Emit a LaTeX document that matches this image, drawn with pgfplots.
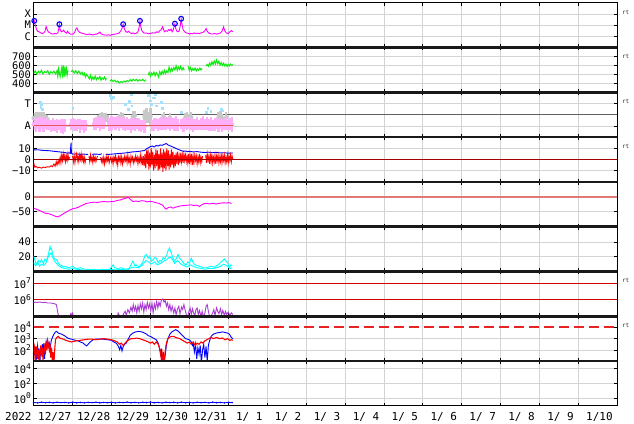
\documentclass[border=0pt]{standalone}
\usepackage{pgfplots}
\pgfplotsset{compat=1.18}
\usepackage{fontspec}
\setmainfont{DejaVu Sans Mono}

\definecolor{gridc}{RGB}{211,211,211}
\definecolor{magc}{RGB}{255,0,255}
\definecolor{grnc}{RGB}{20,235,20}
\definecolor{pinkc}{RGB}{255,175,250}
\definecolor{skyc}{RGB}{160,225,255}
\definecolor{greyc}{RGB}{200,200,200}
\definecolor{darkred}{RGB}{165,0,0}
\definecolor{lightred}{RGB}{225,120,120}
\definecolor{cyanc}{RGB}{0,255,255}
\definecolor{purc}{RGB}{170,60,210}
\definecolor{redc}{RGB}{215,0,0}
\definecolor{refred}{RGB}{230,90,90}
\definecolor{dashr}{RGB}{232,35,35}

\newcommand{\lab}{\fontsize{11}{11}\selectfont}
\newcommand{\ylab}{\fontsize{10.5}{10.5}\selectfont}
\newcommand{\tp}[1]{10\raisebox{0.8ex}{\fontsize{8}{8}\selectfont #1}}

\pgfplotsset{
  panel/.style={
    scale only axis, width=583.6bp, height=44.79bp, anchor=north west,
    xmin=0, xmax=15, xtick={1,...,14}, xticklabels={},
    grid=major, major grid style={gridc, line width=0.6bp},
    axis line style={line width=0.9bp},
    tick style={black, line width=0.6bp}, major tick length=3bp,
    yticklabel style={font=\ylab, inner sep=0pt, xshift=-2.6bp},
    unbounded coords=jump, clip mode=individual,
  },
  rt/.style={after end axis/.append code={
    \node[anchor=west, inner sep=0pt, xshift=4.5bp, font=\fontsize{6}{6}\selectfont, text=black!80]
      at (rel axis cs:1,0.79) {rt};}},
}

\begin{document}
\begin{tikzpicture}
\useasboundingbox (-33.7bp,2.7bp) rectangle (600.3bp,-421.3bp);

% X-ray flux (log10)
\begin{axis}[panel, rt, name=p1, at={(0,0)}, ymin=-7, ymax=-3,
  ytick={-6,-5,-4}, yticklabels={C,M,X}]
\addplot[magc, line width=0.9bp] coordinates {
(0.00,-4.75) (0.015,-4.62) (0.04,-5.0) (0.07,-5.35) (0.10,-5.55) (0.14,-5.6) (0.18,-5.7) (0.22,-5.75)
(0.26,-5.7) (0.29,-5.55) (0.32,-5.12) (0.35,-5.45) (0.38,-5.62) (0.42,-5.7) (0.46,-5.78) (0.50,-5.8)
(0.54,-5.75) (0.58,-5.78) (0.62,-5.7) (0.64,-5.4) (0.66,-4.92) (0.68,-5.4) (0.71,-5.6) (0.74,-5.55)
(0.77,-5.45) (0.80,-5.62) (0.84,-5.72) (0.87,-5.55) (0.90,-5.7) (0.94,-5.8) (0.98,-5.82) (1.02,-5.78)
(1.06,-5.6) (1.09,-5.3) (1.11,-5.25) (1.14,-5.5) (1.18,-5.65) (1.22,-5.7) (1.27,-5.75) (1.32,-5.8)
(1.37,-5.85) (1.42,-5.8) (1.47,-5.84) (1.52,-5.88) (1.57,-5.82) (1.62,-5.8) (1.67,-5.72) (1.70,-5.62)
(1.73,-5.78) (1.78,-5.85) (1.83,-5.88) (1.88,-5.9) (1.93,-5.86) (1.97,-5.92) (2.01,-5.85) (2.06,-5.82)
(2.11,-5.8) (2.16,-5.75) (2.20,-5.7) (2.24,-5.5) (2.27,-5.3) (2.30,-4.92) (2.33,-5.35) (2.36,-5.55)
(2.40,-5.65) (2.44,-5.55) (2.48,-5.7) (2.52,-5.75) (2.56,-5.7) (2.60,-5.78) (2.64,-5.72) (2.68,-5.6)
(2.71,-5.2) (2.73,-4.62) (2.75,-5.1) (2.78,-5.5) (2.82,-5.68) (2.86,-5.72) (2.90,-5.7) (2.95,-5.78)
(3.00,-5.75) (3.04,-5.7) (3.08,-5.68) (3.12,-5.72) (3.16,-5.6) (3.20,-5.65) (3.24,-5.5) (3.28,-5.4)
(3.31,-5.15) (3.33,-5.3) (3.36,-5.6) (3.40,-5.5) (3.44,-5.55) (3.47,-5.4) (3.50,-5.5) (3.53,-5.35)
(3.56,-5.6) (3.59,-5.4) (3.61,-5.1) (3.63,-4.87) (3.65,-5.3) (3.68,-5.55) (3.71,-5.6) (3.74,-5.5)
(3.77,-5.0) (3.79,-4.43) (3.81,-4.9) (3.84,-5.4) (3.88,-5.6) (3.92,-5.7) (3.96,-5.72) (4.00,-5.8)
(4.04,-5.75) (4.08,-5.78) (4.12,-5.7) (4.16,-5.75) (4.20,-5.72) (4.25,-5.76) (4.30,-5.7) (4.35,-5.65)
(4.40,-5.5) (4.43,-5.3) (4.46,-5.55) (4.50,-5.72) (4.55,-5.78) (4.60,-5.8) (4.65,-5.75) (4.70,-5.8)
(4.75,-5.76) (4.80,-5.7) (4.84,-5.55) (4.88,-5.15) (4.91,-5.5) (4.95,-5.7) (5.00,-5.75) (5.04,-5.6)
(5.08,-5.5) (5.12,-5.6)};
\addplot[only marks, mark=o, mark size=2.4bp, blue, mark options={line width=1.1bp}] coordinates {
(0.015,-4.62) (0.66,-4.92) (2.30,-4.92) (2.73,-4.62) (3.63,-4.87) (3.79,-4.43)};
\end{axis}

% solar wind speed
\begin{axis}[panel, rt, name=p2, at={(0,-44.79bp)}, ymin=300, ymax=800,
  ytick={400,500,600,700}, yticklabels={400,500,600,700}]
\addplot[grnc, line width=1.1bp] coordinates {
(0.00,510) (0.04,540) (0.08,505) (0.12,535) (0.16,515) (0.20,545) (0.24,505) (0.28,530) (0.32,520)
(0.36,540) (0.40,500) (0.44,530) (0.48,515) (0.52,535) (0.56,505) (0.60,540) (0.62,480) (0.64,560)
(0.68,475) (0.72,570) (0.74,500) (0.76,600) (0.78,470) (0.80,555) (0.82,510) (0.84,590) (0.86,495)
(0.88,545) (0.91,nan)
(0.96,530) (1.00,545) (1.04,515) (1.08,540) (1.12,510) (1.16,535) (1.20,505) (1.24,525) (1.27,490)
(1.30,515) (1.33,470) (1.36,500) (1.40,475) (1.43,450) (1.46,490) (1.49,440) (1.52,470) (1.55,445)
(1.58,480) (1.61,440) (1.64,465) (1.67,450) (1.70,475) (1.73,435) (1.76,460) (1.79,445) (1.82,470)
(1.85,440) (1.87,455) (1.91,nan)
(1.96,425) (2.00,440) (2.04,420) (2.08,435) (2.12,415) (2.16,425) (2.20,405) (2.24,420) (2.28,410)
(2.32,425) (2.36,415) (2.40,430) (2.44,420) (2.48,440) (2.52,425) (2.56,445) (2.60,430) (2.64,445)
(2.68,425) (2.72,440) (2.76,430) (2.80,445) (2.84,425) (2.88,440) (2.92,nan)
(2.94,490) (2.97,520) (3.00,480) (3.03,515) (3.06,495) (3.09,525) (3.12,485) (3.15,520) (3.18,500)
(3.21,470) (3.24,530) (3.27,495) (3.30,535) (3.33,505) (3.36,545) (3.39,510) (3.42,540) (3.45,520)
(3.48,580) (3.51,530) (3.54,565) (3.57,540) (3.60,575) (3.63,550) (3.66,595) (3.69,545) (3.72,580)
(3.75,555) (3.78,590) (3.81,550) (3.84,575) (3.87,545) (3.92,nan)
(3.97,590) (4.00,545) (4.03,575) (4.06,540) (4.09,565) (4.12,545) (4.15,570) (4.18,540) (4.21,560)
(4.24,545) (4.27,570) (4.30,550) (4.33,565) (4.38,nan)
(4.43,595) (4.46,610) (4.49,590) (4.52,625) (4.55,600) (4.58,640) (4.61,610) (4.64,650) (4.67,615)
(4.70,660) (4.73,620) (4.76,645) (4.79,605) (4.82,630) (4.85,600) (4.88,625) (4.91,595) (4.94,615)
(4.97,590) (5.00,610) (5.03,595) (5.06,615) (5.09,600) (5.12,610)};
\end{axis}

% T / A index
\begin{axis}[panel, rt, name=p3, at={(0,-89.58bp)}, ymin=0, ymax=10,
  ytick={2.5,7.5}, yticklabels={A,T}]
\addplot[gray!75!black, line width=0.8bp] coordinates {(0,5) (15,5)};
\addplot[only marks, mark=none, color=greyc, error bars/.cd, y dir=both, y explicit,
  error mark=none, error bar style={line width=2.2bp, greyc}] coordinates {
(0.00,4.2) +- (0,1.2) (0.05,4.5) +- (0,1.2) (0.10,4.6) +- (0,1.0) (0.15,4.3) +- (0,1.2)
(0.20,4.5) +- (0,1.0) (0.25,4.4) +- (0,1.1) (0.30,4.2) +- (0,1.0) (0.35,4.0) +- (0,1.0)
(1.65,4.0) +- (0,1.0) (1.70,4.3) +- (0,1.1) (1.75,4.5) +- (0,1.0) (1.80,4.2) +- (0,1.2)
(1.85,4.4) +- (0,1.0) (1.90,4.0) +- (0,1.0) (2.20,4.2) +- (0,1.0) (2.25,4.5) +- (0,1.2)
(2.30,4.3) +- (0,1.0) (2.55,4.6) +- (0,1.2) (2.60,4.8) +- (0,1.1) (2.85,4.5) +- (0,1.5)
(2.90,4.8) +- (0,1.6) (2.95,4.4) +- (0,1.2) (3.00,4.6) +- (0,1.8) (3.30,4.2) +- (0,1.0)
(3.35,4.4) +- (0,1.1) (3.50,4.3) +- (0,1.0) (3.90,4.3) +- (0,1.0) (3.95,4.5) +- (0,1.1)
(4.00,4.2) +- (0,1.0) (4.05,4.4) +- (0,1.2) (4.75,4.3) +- (0,1.2) (4.80,4.6) +- (0,1.3)
(4.85,4.2) +- (0,1.0) (4.95,4.4) +- (0,1.2)};
\addplot[only marks, mark=none, color=pinkc, error bars/.cd, y dir=both, y explicit,
  error mark=none, error bar style={line width=2.2bp, pinkc}] coordinates {
(0.00,2.9) +- (0,1.3) (0.05,2.7) +- (0,1.5) (0.10,3.0) +- (0,1.2) (0.15,2.8) +- (0,1.6)
(0.20,3.1) +- (0,1.3) (0.25,2.6) +- (0,1.4) (0.30,2.9) +- (0,1.2) (0.35,3.0) +- (0,1.5)
(0.40,2.7) +- (0,1.1) (0.45,2.5) +- (0,1.3) (0.50,2.8) +- (0,1.5) (0.55,2.6) +- (0,1.2)
(0.60,2.4) +- (0,1.6) (0.65,2.7) +- (0,1.2) (0.70,2.5) +- (0,1.5) (0.75,2.3) +- (0,1.7)
(0.80,2.6) +- (0,1.4) (0.95,2.8) +- (0,1.3) (1.00,3.0) +- (0,1.2) (1.05,2.7) +- (0,1.4)
(1.10,2.6) +- (0,1.3) (1.15,2.9) +- (0,1.2) (1.20,2.5) +- (0,1.5) (1.25,2.7) +- (0,1.1)
(1.30,2.4) +- (0,1.4) (1.35,2.6) +- (0,1.2) (1.55,2.9) +- (0,1.3) (1.60,3.0) +- (0,1.4)
(1.65,3.2) +- (0,1.2) (1.70,2.8) +- (0,1.5) (1.75,3.1) +- (0,1.3) (1.80,2.9) +- (0,1.1)
(1.95,2.8) +- (0,1.4) (2.00,3.1) +- (0,1.5) (2.05,3.2) +- (0,1.2) (2.10,3.0) +- (0,1.4)
(2.15,3.3) +- (0,1.3) (2.20,2.9) +- (0,1.5) (2.25,3.2) +- (0,1.2) (2.30,3.0) +- (0,1.4)
(2.35,2.7) +- (0,1.3) (2.40,3.0) +- (0,1.5) (2.45,2.8) +- (0,1.2) (2.50,2.6) +- (0,1.6)
(2.55,2.9) +- (0,1.3) (2.60,2.7) +- (0,1.4) (2.65,3.0) +- (0,1.2) (2.70,2.8) +- (0,1.5)
(2.75,2.5) +- (0,1.3) (2.80,2.7) +- (0,1.2) (2.85,2.4) +- (0,1.4) (3.05,2.6) +- (0,1.3)
(3.10,2.8) +- (0,1.5) (3.15,3.0) +- (0,1.2) (3.20,2.7) +- (0,1.4) (3.25,2.9) +- (0,1.3)
(3.30,3.1) +- (0,1.5) (3.35,2.8) +- (0,1.2) (3.40,3.0) +- (0,1.4) (3.45,3.2) +- (0,1.3)
(3.50,2.9) +- (0,1.5) (3.55,3.1) +- (0,1.2) (3.60,2.8) +- (0,1.4) (3.65,3.0) +- (0,1.6)
(3.70,2.7) +- (0,1.3) (3.80,2.9) +- (0,1.2) (3.85,2.7) +- (0,1.5) (3.90,3.0) +- (0,1.3)
(3.95,2.8) +- (0,1.2) (4.00,3.1) +- (0,1.4) (4.05,2.9) +- (0,1.3) (4.10,2.6) +- (0,1.5)
(4.15,2.8) +- (0,1.2) (4.20,3.0) +- (0,1.4) (4.25,2.7) +- (0,1.1) (4.30,2.9) +- (0,1.3)
(4.35,3.1) +- (0,1.5) (4.40,2.8) +- (0,1.2) (4.45,3.0) +- (0,1.4) (4.50,2.7) +- (0,1.3)
(4.55,2.9) +- (0,1.5) (4.60,2.6) +- (0,1.2) (4.65,2.8) +- (0,1.4) (4.70,3.0) +- (0,1.3)
(4.75,2.7) +- (0,1.5) (4.80,2.9) +- (0,1.2) (4.85,2.6) +- (0,1.4) (4.90,2.8) +- (0,1.3)
(4.95,3.0) +- (0,1.5) (5.00,2.7) +- (0,1.2) (5.05,2.9) +- (0,1.4) (5.10,2.8) +- (0,1.6)};
\addplot[only marks, mark=square*, mark size=0.9bp, skyc] coordinates {
(0.16,7.9) (0.18,6.7) (0.20,7.3) (0.22,6.2) (1.00,6.4) (1.96,9.3) (2.00,8.6) (2.05,8.9) (2.35,7.4)
(2.43,6.3) (2.45,8.0) (2.50,9.6) (2.52,7.0) (2.94,9.3) (2.97,9.8) (3.00,8.1) (3.03,7.4) (3.06,8.8)
(3.10,8.8) (3.13,9.6) (3.15,7.0) (3.28,7.7) (3.30,6.5) (3.79,5.5) (4.43,5.6) (4.47,6.4) (4.55,5.8)
(4.82,6.3) (4.85,5.9)};
\addplot[refred, line width=0.9bp] coordinates {(0,2.5) (5.12,2.5)};
\end{axis}

% IMF Bt / Bz
\begin{axis}[panel, rt, name=p4, at={(0,-134.37bp)}, ymin=-20, ymax=20,
  ytick={-10,0,10}, yticklabels={−10,0,10}]
\addplot[blue, line width=0.9bp] coordinates {
(0,8.5) (0.1,8.7) (0.2,8.2) (0.3,8.0) (0.4,7.8) (0.5,7.4) (0.6,7.0) (0.7,6.6) (0.8,6.2) (0.87,5.6)
(0.9,6.0) (0.94,5.5) (0.96,15) (0.97,5.5) (1.0,4.8) (1.1,5.0) (1.2,4.5) (1.3,4.8) (1.4,4.4) (1.45,nan)
(1.5,4.6) (1.6,4.8) (1.7,4.5) (1.75,5.0) (1.8,nan) (1.85,4.4) (1.95,4.6) (2.05,4.9) (2.15,5.2)
(2.25,5.5) (2.35,5.8) (2.45,6.3) (2.55,6.8) (2.65,7.0) (2.75,7.5) (2.85,8.0) (2.9,9.5) (2.95,10.5)
(3.0,11.5) (3.05,12.0) (3.1,11.2) (3.15,12.5) (3.2,12.0) (3.25,13.0) (3.3,12.6) (3.35,13.5)
(3.41,14.2) (3.45,13.0) (3.5,12.3) (3.55,11.5) (3.6,10.8) (3.65,10.0) (3.7,9.2) (3.75,8.5) (3.8,7.8)
(3.85,7.2) (3.9,7.6) (3.95,7.0) (4.0,7.3) (4.1,6.8) (4.2,7.0) (4.3,6.5) (4.4,6.2) (4.5,6.5) (4.6,6.0)
(4.7,6.3) (4.8,5.8) (4.9,6.0) (5.0,5.6) (5.12,5.8)};
\addplot[red, line width=0.9bp] coordinates {
(0,-3) (0.03,-7) (0.06,-6) (0.1,-7.5) (0.15,-7) (0.2,-7.8) (0.25,-6.8) (0.3,-7.2) (0.35,-6.5)
(0.4,-6.8) (0.45,-5.5) (0.48,-6.5) (0.52,-4) (0.55,-6) (0.58,-2) (0.6,-5) (0.63,-1) (0.65,-4) (0.68,2)
(0.7,-3) (0.72,4) (0.74,-1) (0.76,5) (0.78,0) (0.8,4) (0.82,-2) (0.84,3) (0.86,-1) (0.88,5) (0.9,0)
(0.93,2) (0.95,nan)
(1.0,3) (1.02,-2) (1.04,4) (1.06,-3) (1.08,2) (1.1,5) (1.12,-1) (1.14,3) (1.16,-2) (1.18,4) (1.2,0)
(1.22,5) (1.24,-1) (1.26,3) (1.28,-2) (1.3,2) (1.32,-3) (1.34,1) (1.37,nan)
(1.42,3) (1.44,-2) (1.46,4) (1.48,-1) (1.5,2) (1.52,-3) (1.54,3) (1.56,-1) (1.58,2) (1.6,-2) (1.62,1)
(1.64,3) (1.67,nan)
(1.72,2) (1.74,-2) (1.76,1) (1.78,-3) (1.8,2) (1.82,-4) (1.84,1) (1.86,-2) (1.88,3) (1.9,-1) (1.92,2)
(1.94,-3) (1.96,0) (1.98,2) (2.0,-2) (2.02,1) (2.04,-4) (2.06,2) (2.08,-1) (2.1,3) (2.12,-3) (2.14,1)
(2.16,-5) (2.18,2) (2.2,-1) (2.22,3) (2.24,-3) (2.26,2) (2.28,-4) (2.3,1) (2.32,-2) (2.34,3) (2.36,-1)
(2.38,2) (2.4,-3) (2.42,4) (2.44,-2) (2.46,1) (2.48,-4) (2.5,3) (2.52,-1) (2.54,2) (2.56,-3) (2.58,1)
(2.6,-2) (2.62,3) (2.64,-1) (2.66,2) (2.68,-4) (2.7,1) (2.72,-2) (2.74,4) (2.76,-3) (2.78,2) (2.8,-5)
(2.82,3) (2.84,-6) (2.86,5) (2.88,-8) (2.9,8) (2.92,-4) (2.94,9) (2.96,-9) (2.98,6) (3.0,-7) (3.02,10)
(3.04,-5) (3.06,7) (3.08,-10) (3.1,4) (3.12,-8) (3.14,9) (3.16,-6) (3.18,8) (3.2,-10) (3.22,5)
(3.24,-9) (3.26,10) (3.28,-7) (3.3,6) (3.32,-11) (3.34,9) (3.36,-8) (3.38,7) (3.4,-10) (3.42,10)
(3.44,-6) (3.46,8) (3.48,-9) (3.5,5) (3.52,-7) (3.54,9) (3.56,-5) (3.58,7) (3.6,-8) (3.62,4) (3.64,-6)
(3.66,6) (3.68,-4) (3.7,7) (3.72,-5) (3.74,3) (3.76,-3) (3.78,6) (3.8,-2) (3.82,4) (3.84,-3) (3.86,5)
(3.88,-1) (3.9,4) (3.92,-2) (3.94,3) (3.96,-3) (3.98,5) (4.0,-4) (4.02,4) (4.04,-2) (4.06,5) (4.08,-5)
(4.1,3) (4.12,-3) (4.14,4) (4.16,-1) (4.18,3) (4.2,-4) (4.22,2) (4.24,-2) (4.26,5) (4.28,-3) (4.3,2)
(4.32,-2) (4.34,3) (4.37,nan)
(4.42,4) (4.44,-3) (4.46,5) (4.48,-1) (4.5,3) (4.52,-4) (4.54,4) (4.56,-2) (4.58,5) (4.6,-3) (4.62,2)
(4.64,-2) (4.66,4) (4.68,-4) (4.7,3) (4.72,-1) (4.74,4) (4.76,-3) (4.78,2) (4.8,-2) (4.82,5) (4.84,-3)
(4.86,3) (4.88,-1) (4.9,4) (4.92,-3) (4.94,2) (4.96,-2) (4.98,4) (5.0,-3) (5.02,3) (5.04,-1) (5.06,4)
(5.08,-2) (5.1,3) (5.12,0)};
\addplot[darkred, line width=0.9bp] coordinates {(0,0) (15,0)};
\end{axis}

% Dst
\begin{axis}[panel, name=p5, at={(0,-179.16bp)}, ymin=-100, ymax=50,
  ytick={-50,0}, yticklabels={−50,0}]
\addplot[lightred, line width=2bp] coordinates {(0,0) (15,0)};
\addplot[magc, line width=0.9bp] coordinates {
(0,-38) (0.08,-42) (0.15,-46) (0.22,-50) (0.29,-55) (0.36,-56) (0.42,-58) (0.5,-62) (0.57,-66)
(0.63,-67) (0.7,-62) (0.77,-56) (0.85,-50) (0.92,-45) (1.0,-40) (1.08,-38) (1.15,-35) (1.22,-30)
(1.29,-26) (1.36,-22) (1.45,-20) (1.55,-18) (1.65,-19) (1.72,-17) (1.8,-16) (1.9,-17) (2.0,-16)
(2.08,-15) (2.16,-12) (2.24,-10) (2.3,-7) (2.36,-5) (2.43,-2) (2.48,-8) (2.55,-16) (2.62,-14)
(2.7,-16) (2.77,-13) (2.84,-14) (2.92,-17) (3.0,-15) (3.07,-17) (3.15,-20) (3.22,-22) (3.28,-26)
(3.32,-29) (3.37,-38) (3.41,-41) (3.46,-36) (3.52,-34) (3.58,-38) (3.64,-35) (3.72,-32) (3.8,-30)
(3.88,-29) (3.96,-28) (4.04,-27) (4.1,-29) (4.18,-28) (4.26,-32) (4.32,-27) (4.38,-23) (4.44,-22)
(4.52,-24) (4.6,-22) (4.69,-24) (4.78,-22) (4.86,-20) (4.95,-21) (5.02,-19) (5.08,-23)};
\end{axis}

% two cyan series
\begin{axis}[panel, name=p6, at={(0,-223.95bp)}, ymin=0, ymax=61,
  ytick={20,40}, yticklabels={20,40}]
\addplot[cyanc, line width=0.9bp] coordinates {
(0,21) (0.04,14) (0.08,9) (0.12,15) (0.16,12) (0.2,16) (0.25,11) (0.29,17) (0.33,14) (0.38,24)
(0.42,34) (0.44,30) (0.46,31) (0.5,21) (0.54,17) (0.59,16) (0.63,12) (0.67,9) (0.72,8) (0.76,6)
(0.82,7) (0.88,5) (0.95,6) (1.0,7) (1.05,5) (1.1,4) (1.2,5) (1.3,3) (1.36,3) (1.45,2.5) (1.55,3)
(1.65,2) (1.75,3) (1.85,2.5) (1.96,3) (2.0,6) (2.04,9) (2.08,5) (2.15,4) (2.25,5) (2.35,3) (2.45,4)
(2.55,14) (2.6,8) (2.64,9) (2.7,6) (2.8,12) (2.86,22) (2.9,23) (2.94,18) (2.98,21) (3.03,14)
(3.07,16) (3.11,19) (3.15,18) (3.2,12) (3.24,15) (3.28,14) (3.33,19) (3.37,17) (3.41,21) (3.45,28)
(3.49,32) (3.52,27) (3.54,25) (3.58,18) (3.62,14) (3.66,17) (3.71,23) (3.75,18) (3.79,16) (3.84,12)
(3.88,10) (3.92,9) (3.96,13) (4.0,11) (4.05,18) (4.1,12) (4.14,9) (4.2,8) (4.26,7) (4.32,6) (4.38,5)
(4.43,5) (4.5,6) (4.55,7) (4.6,7) (4.65,5) (4.7,8) (4.74,9) (4.78,11) (4.84,14) (4.9,17) (4.95,14)
(4.99,11) (5.03,5) (5.07,9) (5.1,8)};
\addplot[cyanc, line width=0.9bp] coordinates {
(0,12) (0.05,8) (0.1,13) (0.15,7) (0.2,10) (0.26,8) (0.32,12) (0.36,18) (0.4,22) (0.45,25) (0.5,18)
(0.55,13) (0.6,10) (0.66,7) (0.72,5) (0.8,4) (0.9,3) (1.0,4) (1.1,3) (1.25,2) (1.4,2) (1.55,1.5)
(1.7,2) (1.85,1.5) (2.0,3) (2.1,2) (2.25,3) (2.4,2) (2.5,5) (2.6,6) (2.7,5) (2.8,9) (2.88,15)
(2.95,13) (3.02,10) (3.1,13) (3.18,9) (3.26,11) (3.34,14) (3.42,16) (3.5,20) (3.56,17) (3.62,11)
(3.7,15) (3.78,10) (3.86,8) (3.94,6) (4.02,9) (4.1,7) (4.2,5) (4.3,4) (4.4,3) (4.5,4) (4.6,4)
(4.7,5) (4.8,7) (4.88,10) (4.96,8) (5.04,4) (5.1,5)};
\end{axis}

% electron flux (log10)
\begin{axis}[panel, rt, name=p7, at={(0,-268.74bp)}, ymin=5, ymax=7.7,
  ytick={6,7}, yticklabels={\tp{6},\tp{7}}]
\addplot[redc, line width=0.9bp] coordinates {(0,6) (15,6)};
\addplot[redc, line width=0.9bp] coordinates {(0,7) (15,7)};
\addplot[purc, line width=0.9bp] coordinates {
(0,5.82) (0.05,5.85) (0.1,5.83) (0.15,5.86) (0.2,5.84) (0.25,5.82) (0.3,5.84) (0.35,5.8) (0.42,5.8)
(0.48,5.78) (0.54,5.75) (0.58,5.7) (0.6,5.5) (0.62,5.2) (0.64,5.02) (0.66,4.9) (0.7,nan)
(0.93,4.9) (0.95,5.15) (0.98,5.1) (1.0,5.2) (1.03,4.9) (1.05,nan)
(2.15,4.9) (2.17,5.2) (2.2,5.05) (2.24,4.9) (2.3,5.1) (2.35,5.3) (2.38,5.05) (2.42,5.4) (2.46,5.2)
(2.5,5.55) (2.53,5.3) (2.56,5.7) (2.59,5.35) (2.62,5.6) (2.65,5.2) (2.68,5.65) (2.71,5.3) (2.74,5.75)
(2.77,5.45) (2.8,5.8) (2.83,5.25) (2.86,5.7) (2.89,5.4) (2.92,5.85) (2.95,5.5) (2.98,5.75) (3.01,5.3)
(3.04,5.8) (3.07,5.2) (3.1,5.75) (3.13,5.45) (3.16,5.9) (3.19,5.5) (3.22,5.85) (3.25,5.6) (3.28,5.95)
(3.32,6.04) (3.35,5.85) (3.38,5.95) (3.41,5.6) (3.44,5.8) (3.47,5.4) (3.5,5.7) (3.53,5.3) (3.56,5.6)
(3.6,5.2) (3.63,5.5) (3.66,5.1) (3.7,5.45) (3.73,5.6) (3.76,5.15) (3.8,5.55) (3.83,5.4) (3.86,5.7)
(3.9,5.3) (3.93,5.05) (3.96,4.95) (3.99,5.3) (4.02,5.5) (4.05,5.1) (4.08,5.45) (4.11,5.2) (4.14,5.0)
(4.17,5.4) (4.2,5.5) (4.23,5.1) (4.26,5.35) (4.3,5.0) (4.33,5.3) (4.36,4.95) (4.4,5.2) (4.43,5.6)
(4.46,5.7) (4.49,5.3) (4.52,5.0) (4.55,4.95) (4.6,5.2) (4.63,5.4) (4.66,5.05) (4.7,5.5) (4.73,5.3)
(4.76,5.15) (4.8,5.45) (4.83,5.1) (4.86,5.35) (4.9,5.05) (4.93,5.3) (4.96,5.1) (5.0,5.25) (5.04,5.05)
(5.08,5.2) (5.12,5.1)};
\end{axis}

% proton / particle flux (log10)
\begin{axis}[panel, rt, name=p8, at={(0,-313.53bp)}, ymin=1, ymax=5,
  ytick={2,3}, yticklabels={\tp{2},\tp{3}},
  extra y ticks={4}, extra y tick labels={\tp{4}}, extra y tick style={grid=none}]
\addplot[dashr, line width=2bp, dash pattern=on 10bp off 5bp] coordinates {(0,4) (15,4)};
\addplot[blue, line width=0.9bp] coordinates {
(0,2.2) (0.02,1.5) (0.04,2.3) (0.06,0.8) (0.08,1.9) (0.1,2.4) (0.12,1.4) (0.14,2.1) (0.16,0.8)
(0.18,2.3) (0.2,1.7) (0.22,2.5) (0.24,1.8) (0.26,2.6) (0.28,1.2) (0.3,2.4) (0.32,2.7) (0.34,2.0)
(0.36,2.8) (0.38,2.3) (0.4,2.6) (0.42,2.1) (0.45,2.8) (0.48,3.1) (0.52,3.4) (0.56,3.6) (0.59,3.65)
(0.63,3.5) (0.67,3.45) (0.72,3.4) (0.77,3.3) (0.82,3.2) (0.87,3.05) (0.92,3.0) (0.97,2.95) (1.02,2.9)
(1.08,2.85) (1.14,2.8) (1.2,2.7) (1.27,2.6) (1.32,2.45) (1.36,2.35) (1.4,2.5) (1.45,2.7) (1.53,2.9)
(1.6,2.95) (1.7,2.95) (1.8,2.95) (1.9,2.9) (2.0,2.85) (2.06,2.7) (2.12,2.6) (2.18,2.3) (2.21,2.0)
(2.24,2.4) (2.27,1.9) (2.3,2.3) (2.34,2.5) (2.38,2.6) (2.42,2.9) (2.48,3.3) (2.55,3.5) (2.62,3.6)
(2.7,3.65) (2.78,3.6) (2.85,3.5) (2.9,3.4) (2.95,3.25) (3.0,3.2) (3.05,3.1) (3.1,3.0) (3.15,2.9)
(3.2,2.6) (3.23,2.2) (3.26,1.6) (3.28,2.1) (3.3,0.8) (3.33,1.8) (3.35,0.8) (3.38,1.5) (3.41,2.4)
(3.45,3.0) (3.5,3.4) (3.55,3.6) (3.6,3.7) (3.65,3.8) (3.7,3.7) (3.75,3.55) (3.8,3.35) (3.85,3.2)
(3.9,3.0) (3.95,2.95) (4.0,2.9) (4.05,2.7) (4.08,2.4) (4.1,2.6) (4.13,1.8) (4.16,2.5) (4.19,1.2)
(4.22,2.2) (4.25,1.6) (4.28,2.4) (4.31,0.8) (4.34,2.0) (4.37,2.5) (4.4,1.3) (4.43,2.3) (4.46,1.0)
(4.49,2.4) (4.52,2.8) (4.56,3.2) (4.62,3.4) (4.7,3.5) (4.78,3.55) (4.85,3.6) (4.92,3.55) (4.98,3.5)
(5.03,3.4) (5.08,3.1) (5.12,3.0)};
\addplot[red, line width=1.1bp] coordinates {
(0,1.8) (0.02,2.2) (0.04,0.8) (0.06,1.7) (0.08,2.3) (0.1,1.2) (0.12,2.0) (0.14,0.8) (0.16,1.6)
(0.18,2.4) (0.2,1.5) (0.22,2.2) (0.24,1.0) (0.26,2.0) (0.28,2.3) (0.3,1.6) (0.32,2.6) (0.34,2.2)
(0.36,2.8) (0.38,2.4) (0.4,2.0) (0.42,2.5) (0.44,1.3) (0.46,2.2) (0.48,0.8) (0.5,1.8) (0.52,0.8)
(0.54,2.0) (0.56,2.9) (0.59,3.1) (0.63,3.2) (0.67,3.05) (0.72,3.0) (0.77,2.95) (0.82,2.85) (0.87,2.8)
(0.92,2.75) (0.97,2.7) (1.02,2.75) (1.1,2.8) (1.2,2.85) (1.3,2.9) (1.4,2.95) (1.5,2.95) (1.6,2.9)
(1.7,2.95) (1.8,3.0) (1.9,2.95) (2.0,2.9) (2.08,2.8) (2.15,2.7) (2.2,2.5) (2.25,2.6) (2.3,2.4)
(2.35,2.6) (2.4,2.8) (2.45,2.9) (2.5,3.0) (2.58,3.0) (2.65,3.05) (2.72,3.0) (2.8,2.9) (2.88,2.8)
(2.95,2.7) (3.0,2.6) (3.05,2.7) (3.1,2.5) (3.15,2.7) (3.2,2.5) (3.23,2.2) (3.26,1.8) (3.29,0.8)
(3.32,1.7) (3.35,0.8) (3.38,1.9) (3.41,2.6) (3.45,3.0) (3.5,3.15) (3.55,3.2) (3.6,3.2) (3.65,3.1)
(3.7,3.05) (3.75,3.0) (3.8,2.9) (3.85,2.8) (3.9,2.7) (3.95,2.6) (4.0,2.7) (4.05,2.5) (4.1,2.7)
(4.15,2.4) (4.2,2.6) (4.25,2.5) (4.3,2.7) (4.35,2.6) (4.4,2.8) (4.45,2.9) (4.5,3.0) (4.56,3.1)
(4.62,3.0) (4.7,3.1) (4.78,3.0) (4.85,3.05) (4.92,2.9) (4.98,3.0) (5.04,2.85) (5.08,2.9) (5.12,2.85)};
\end{axis}

% bottom panel (log10)
\begin{axis}[panel, name=p9, at={(0,-358.32bp)}, ymin=-1, ymax=5,
  ytick={0,2,4}, yticklabels={\tp{0},\tp{2},\tp{4}},
  extra x ticks={0.54,1.54,2.54,3.54,4.54,5.54,6.54,7.54,8.54,9.54,10.54,11.54,12.54,13.54,14.54},
  extra x tick labels={12/27,12/28,12/29,12/30,12/31,1/ 1,1/ 2,1/ 3,1/ 4,1/ 5,1/ 6,1/ 7,1/ 8,1/ 9,1/10},
  extra x tick style={grid=none, major tick length=0pt,
    xticklabel style={font=\lab, inner sep=0pt, anchor=north, yshift=-6.8bp}},
  after end axis/.append code={
    \node[anchor=north, inner sep=0pt, xshift=-15.3bp, yshift=-6.8bp, font=\lab]
      at (rel axis cs:0,0) {2022};}]
\addplot[blue, line width=0.8bp, mark=*, mark size=0.35bp] coordinates {
(0.0,-0.55) (0.1,-0.6) (0.2,-0.52) (0.3,-0.58) (0.4,-0.54) (0.5,-0.6) (0.6,-0.53) (0.7,-0.57)
(0.8,-0.55) (0.9,-0.6) (1.0,-0.52) (1.1,-0.58) (1.2,-0.55) (1.3,-0.6) (1.4,-0.54) (1.5,-0.57)
(1.6,-0.52) (1.7,-0.59) (1.8,-0.55) (1.9,-0.58) (2.0,-0.53) (2.1,-0.6) (2.2,-0.55) (2.3,-0.57)
(2.4,-0.52) (2.5,-0.58) (2.6,-0.54) (2.7,-0.6) (2.8,-0.53) (2.9,-0.57) (3.0,-0.5) (3.1,-0.58)
(3.2,-0.55) (3.3,-0.6) (3.4,-0.53) (3.5,-0.57) (3.6,-0.54) (3.7,-0.6) (3.8,-0.52) (3.9,-0.58)
(4.0,-0.55) (4.1,-0.6) (4.2,-0.53) (4.3,-0.57) (4.4,-0.54) (4.5,-0.6) (4.6,-0.52) (4.7,-0.58)
(4.8,-0.55) (4.9,-0.6) (5.0,-0.54) (5.1,-0.57)};
\end{axis}

\foreach \i in {1,...,8}
  \draw[line width=2.6bp, black!90] (p\i.south west) -- (p\i.south east);
\end{tikzpicture}
\end{document}
